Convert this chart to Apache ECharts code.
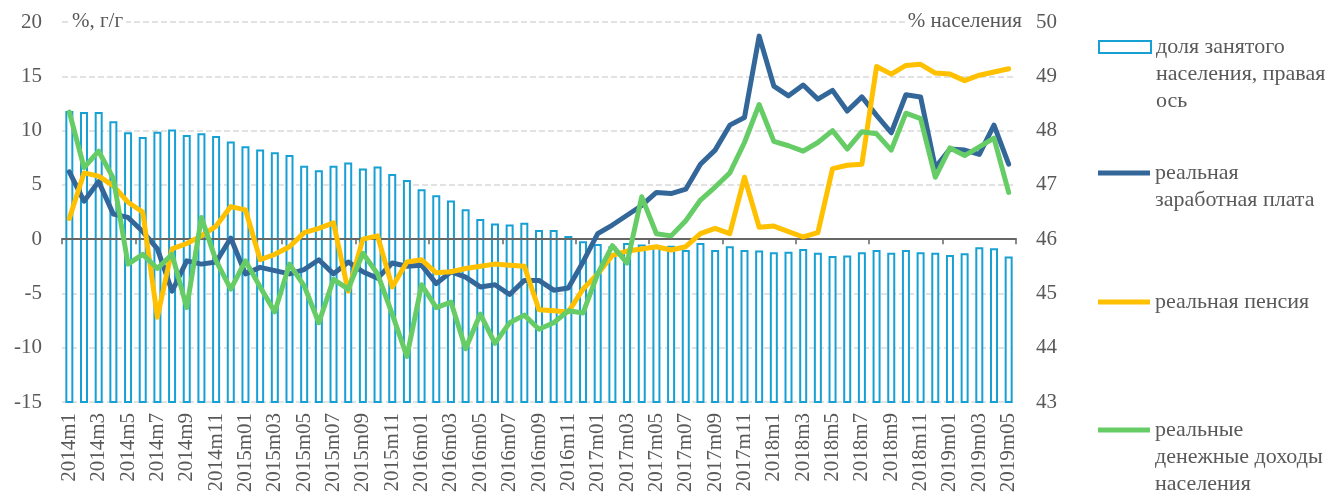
<!DOCTYPE html>
<html>
<head>
<meta charset="utf-8">
<script src="https://cdn.jsdelivr.net/npm/echarts@6/dist/echarts.min.js"></script>
<style>
  html, body { margin: 0; padding: 0; background: #fff; }
  #chart { width: 1332px; height: 497px; }
</style>
</head>
<body>
<div id="chart"></div>
<script>
// категории по месяцам (подписи как в исходнике)
const months = [
  "2014m1", "2014m2", "2014m3", "2014m4", "2014m5", "2014m6", "2014m7", "2014m8", "2014m9", "2014m10", "2014m11", "2014m12",
  "2015m01", "2015m02", "2015m03", "2015m04", "2015m05", "2015m06", "2015m07", "2015m08", "2015m09", "2015m10", "2015m11", "2015m12",
  "2016m01", "2016m02", "2016m03", "2016m04", "2016m05", "2016m06", "2016m07", "2016m08", "2016m09", "2016m10", "2016m11", "2016m12",
  "2017m01", "2017m02", "2017m03", "2017m04", "2017m05", "2017m06", "2017m07", "2017m08", "2017m09", "2017m10", "2017m11", "2017m12",
  "2018m1", "2018m2", "2018m3", "2018m4", "2018m5", "2018m6", "2018m7", "2018m8", "2018m9", "2018m10", "2018m11", "2018m12",
  "2019m01", "2019m02", "2019m03", "2019m04", "2019m05"
];

// доля занятого населения, % населения (правая ось)
const employment = [
  48.36, 48.34, 48.34, 48.17, 47.97, 47.88, 47.98, 48.02, 47.92, 47.95, 47.90, 47.80,
  47.71, 47.65, 47.60, 47.55, 47.35, 47.27, 47.35, 47.41, 47.30, 47.34, 47.20, 47.09,
  46.92, 46.81, 46.71, 46.55, 46.37, 46.29, 46.27, 46.30, 46.17, 46.17, 46.06, 45.96,
  45.91, 45.87, 45.93, 45.90, 45.89, 45.88, 45.80, 45.93, 45.80, 45.87, 45.80, 45.79,
  45.76, 45.77, 45.82, 45.75, 45.69, 45.70, 45.76, 45.80, 45.75, 45.80, 45.76, 45.75,
  45.71, 45.74, 45.85, 45.83, 45.68
];

// реальная заработная плата, %, г/г
const wage = [
  6.2, 3.5, 5.3, 2.3, 2.0, 0.7, -0.9, -4.8, -2.0, -2.3, -2.1, 0.1,
  -3.2, -2.6, -2.9, -3.2, -2.8, -1.9, -3.2, -2.1, -3.0, -3.6, -2.2, -2.5,
  -2.4, -4.1, -3.0, -3.5, -4.4, -4.2, -5.1, -3.8, -3.8, -4.7, -4.5, -2.1,
  0.5, 1.3, 2.2, 3.1, 4.3, 4.2, 4.6, 6.9, 8.2, 10.5, 11.2, 18.7,
  14.1, 13.2, 14.2, 12.9, 13.7, 11.8, 13.1, 11.4, 9.8, 13.3, 13.1, 6.6,
  8.3, 8.2, 7.8, 10.5, 6.9
];

// реальная пенсия, %, г/г
const pension = [
  1.9, 6.1, 5.8, 4.9, 3.4, 2.5, -7.2, -0.9, -0.4, 0.3, 1.2, 3.0,
  2.7, -1.9, -1.4, -0.7, 0.6, 1.0, 1.5, -4.8, 0.0, 0.3, -4.4, -2.1,
  -1.9, -3.1, -3.0, -2.7, -2.5, -2.3, -2.4, -2.5, -6.5, -6.6, -6.7, -4.6,
  -3.2, -1.5, -1.1, -0.9, -0.7, -1.0, -0.7, 0.5, 1.0, 0.5, 5.7, 1.1,
  1.2, 0.7, 0.2, 0.6, 6.5, 6.8, 6.9, 15.9, 15.2, 16.0, 16.1, 15.3,
  15.2, 14.6, 15.1, 15.4, 15.7
];

// реальные денежные доходы населения, %, г/г
const income = [
  11.7, 6.6, 8.1, 5.6, -2.3, -1.4, -2.7, -1.4, -6.3, 2.0, -2.0, -4.6,
  -2.0, -4.4, -6.7, -2.3, -4.3, -7.7, -3.7, -4.6, -1.3, -3.2, -6.9, -10.8,
  -4.2, -6.3, -5.8, -10.1, -6.9, -9.6, -7.7, -7.0, -8.3, -7.7, -6.6, -6.8,
  -3.2, -0.6, -2.2, 3.9, 0.5, 0.3, 1.7, 3.6, 4.8, 6.1, 8.9, 12.4,
  9.0, 8.6, 8.1, 8.9, 10.0, 8.3, 9.9, 9.7, 8.2, 11.6, 11.1, 5.7,
  8.4, 7.7, 8.5, 9.3, 4.3
];

const seriesNames = [
  "доля занятого\nнаселения, правая\nось",
  "реальная\nзаработная плата",
  "реальная пенсия",
  "реальные\nденежные доходы\nнаселения"
];

const font = "'Liberation Serif', 'DejaVu Serif', serif";
const textColor = "#595959";
const barColor = "#17a0d4";
const wageColor = "#336699";
const pensionColor = "#ffc000";
const incomeColor = "#66cc66";
const lineH = 27;
const iconW = 52;

// одна легенда на серию; значок смещён к первой строке подписи
function legendFor(name, firstLineY, markH) {
  const lines = name.split("\n").length;
  const boxH = lines * lineH;
  const y0 = lineH / 2 - markH / 2;
  const icon = "path://M0,0 M" + iconW + "," + boxH +
    " M0," + y0 + " H" + iconW + " V" + (y0 + markH) + " H0 Z";
  return {
    orient: "vertical",
    left: 1098,
    top: firstLineY - lineH / 2,
    padding: 0,
    itemWidth: iconW,
    itemHeight: boxH,
    itemGap: 5,
    textStyle: {
      fontFamily: font,
      fontSize: 22,
      color: textColor,
      lineHeight: lineH,
    },
    data: [{ name: name, icon: icon }],
  };
}

const chart = echarts.init(document.getElementById("chart"));

const option = {
  animation: false,
  backgroundColor: "#fff",
  textStyle: { fontFamily: font },
  title: [
    {
      text: "%, г/г",
      left: 69,
      top: 11,
      padding: [0, 3, 0, 3],
      backgroundColor: "#fff",
      textStyle: { fontFamily: font, fontSize: 21, fontWeight: "normal", color: textColor, lineHeight: 21 },
    },
    {
      text: "% населения",
      right: 307,
      top: 11,
      padding: [0, 3, 0, 3],
      backgroundColor: "#fff",
      textStyle: { fontFamily: font, fontSize: 21, fontWeight: "normal", color: textColor, lineHeight: 21 },
    },
  ],
  legend: [
    legendFor(seriesNames[0], 46, 12),
    legendFor(seriesNames[1], 173, 5),
    legendFor(seriesNames[2], 302, 5),
    legendFor(seriesNames[3], 430, 5),
  ],
  grid: {
    left: 62,
    right: 316,
    top: 22,
    bottom: 95,
    containLabel: false,
  },
  xAxis: [
    {
      // линия оси на нуле с засечками
      type: "category",
      data: months,
      position: "bottom",
      boundaryGap: true,
      axisLine: { onZero: true, onZeroAxisIndex: 0, lineStyle: { color: "#666", width: 2 } },
      axisTick: { show: true, length: 5, lineStyle: { color: "#666", width: 1.5 } },
      axisLabel: { show: false },
      splitLine: { show: false },
      z: 5,
    },
    {
      // подписи месяцев внизу
      type: "category",
      data: months,
      position: "bottom",
      boundaryGap: true,
      axisLine: { show: false, onZero: false },
      axisTick: { show: false },
      axisLabel: {
        interval: 1,
        rotate: 90,
        margin: 11,
        fontFamily: font,
        fontSize: 21,
        color: textColor,
      },
      splitLine: { show: false },
    },
  ],
  yAxis: [
    {
      type: "value",
      min: -15,
      max: 20,
      interval: 5,
      axisLine: { show: false },
      axisTick: { show: false },
      axisLabel: { margin: 20, fontFamily: font, fontSize: 21, color: textColor },
      splitLine: { show: true, lineStyle: { color: "#d9d9d9", width: 1.5, type: [6, 3] } },
    },
    {
      type: "value",
      min: 43,
      max: 50,
      interval: 1,
      position: "right",
      axisLine: { show: false },
      axisTick: { show: false },
      axisLabel: { margin: 20, fontFamily: font, fontSize: 21, color: textColor },
      splitLine: { show: false },
    },
  ],
  series: [
    {
      name: seriesNames[0],
      type: "bar",
      xAxisIndex: 0,
      yAxisIndex: 1,
      data: employment,
      barWidth: 8,
      itemStyle: { color: "#fff", borderColor: barColor, borderWidth: 2 },
      z: 1,
    },
    {
      name: seriesNames[1],
      type: "line",
      xAxisIndex: 0,
      yAxisIndex: 0,
      data: wage,
      symbol: "none",
      color: wageColor,
      lineStyle: { width: 5, color: wageColor, join: "round", cap: "round" },
      z: 6,
    },
    {
      name: seriesNames[2],
      type: "line",
      xAxisIndex: 0,
      yAxisIndex: 0,
      data: pension,
      symbol: "none",
      color: pensionColor,
      lineStyle: { width: 5, color: pensionColor, join: "round", cap: "round" },
      z: 6,
    },
    {
      name: seriesNames[3],
      type: "line",
      xAxisIndex: 0,
      yAxisIndex: 0,
      data: income,
      symbol: "none",
      color: incomeColor,
      lineStyle: { width: 5, color: incomeColor, join: "round", cap: "round" },
      z: 6,
    },
  ],
};

chart.setOption(option);
</script>
</body>
</html>
